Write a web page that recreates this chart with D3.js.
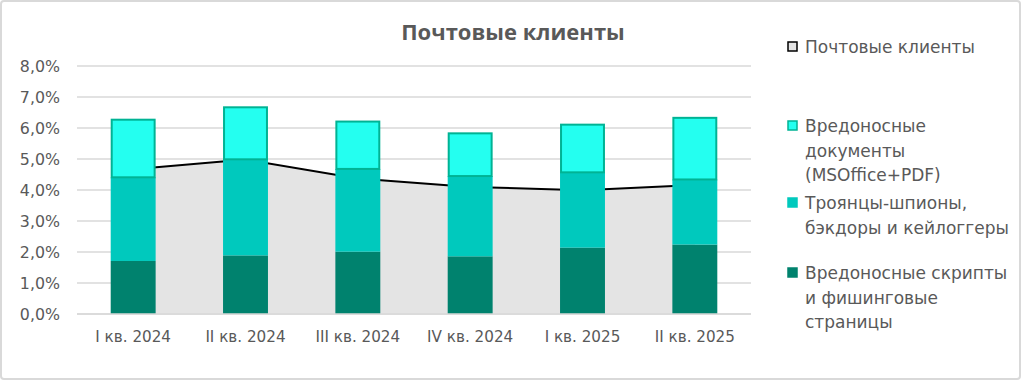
<!DOCTYPE html>
<html><head><meta charset="utf-8">
<script src="https://cdn.jsdelivr.net/npm/d3@7"></script>
<style>body{margin:0;background:#fff}svg{display:block}text{font-family:"DejaVu Sans",sans-serif;fill:#595959}</style>
</head><body><svg id="c" width="1024" height="381"></svg>
<script>
const categories = ["I кв. 2024","II кв. 2024","III кв. 2024","IV кв. 2024","I кв. 2025","II кв. 2025"];
const scripts = [1.71, 1.89, 2.01, 1.86, 2.14, 2.24];
const trojans = [2.70, 3.10, 2.67, 2.59, 2.43, 2.10];
const documents = [1.89, 1.71, 1.56, 1.41, 1.57, 2.02];
const mailClients = [4.67, 4.98, 4.37, 4.10, 3.99, 4.16];
const yTicks = [0,1,2,3,4,5,6,7,8];
const legendLines = [
  {name:"Почтовые клиенты", lines:["Почтовые клиенты"]},
  {name:"docs", lines:["Вредоносные","документы","(MSOffice+PDF)"]},
  {name:"troj", lines:["Троянцы-шпионы,","бэкдоры и кейлоггеры"]},
  {name:"scr", lines:["Вредоносные скрипты","и фишинговые","страницы"]}
];

const svg = d3.select("#c");
svg.append("rect").attr("x",1).attr("y",1).attr("width",1019).attr("height",378).attr("rx",3)
  .attr("fill","#fff").attr("stroke","#d9d9d9").attr("stroke-width",2);

const m = {l:77, r:751, t:66, b:314};
const x = d3.scaleBand().domain(categories).range([m.l, m.r]).paddingInner(0.6).paddingOuter(0.3);
const y = d3.scaleLinear().domain([0,8]).range([m.b, m.t]);

svg.append("g").selectAll("line").data(yTicks).join("line")
  .attr("x1",m.l).attr("x2",m.r).attr("y1",d=>y(d)).attr("y2",d=>y(d))
  .attr("stroke","#d9d9d9").attr("stroke-width",1.5);

const yAxis = d3.axisLeft(y).tickValues(yTicks).tickSize(0).tickPadding(0)
  .tickFormat(d=>d3.format(".1f")(d).replace(".",",")+"%");
const ya = svg.append("g").attr("transform",`translate(60,0)`).call(yAxis);
ya.select(".domain").remove();
ya.selectAll("text").attr("font-size",15.8).attr("fill","#595959").style("font-family","DejaVu Sans");

const cx = d => x(d) + x.bandwidth()/2;
const area = d3.area().x((d,i)=>cx(categories[i])).y0(y(0)).y1(d=>y(d));
const line = d3.line().x((d,i)=>cx(categories[i])).y(d=>y(d));
svg.append("path").datum(mailClients).attr("d",area).attr("fill","#e4e4e4");
svg.append("path").datum(mailClients).attr("d",line).attr("fill","none").attr("stroke","#000").attr("stroke-width",2);

const data = categories.map((c,i)=>({cat:c, s:scripts[i], t:trojans[i], d:documents[i]}));
const stack = d3.stack().keys(["s","t","d"])(data);
const fills = {s:"#00826e", t:"#00c9bd", d:"#24fff0"};
const strokes = {s:"none", t:"none", d:"#00b394"};
stack.forEach(layer=>{
  const k = layer.key==="d";
  svg.append("g").selectAll("rect").data(layer).join("rect")
    .attr("x",d=>x(d.data.cat)+(k?1:0))
    .attr("width",x.bandwidth()-(k?2:0))
    .attr("y",d=>y(d[1])+(k?1:0))
    .attr("height",d=>y(d[0])-y(d[1])-(k?1:0))
    .attr("fill",fills[layer.key]).attr("stroke",strokes[layer.key]).attr("stroke-width",2);
});

svg.append("line").attr("x1",m.l).attr("x2",m.r).attr("y1",y(0)).attr("y2",y(0)).attr("stroke","#d9d9d9").attr("stroke-width",1.5);

const xAxis = d3.axisBottom(x).tickSize(0).tickPadding(0);
const xa = svg.append("g").attr("transform",`translate(0,${y(0)+20})`).call(xAxis);
xa.select(".domain").remove();
xa.selectAll("text").attr("font-size",15.2).attr("fill","#595959").attr("dy","0.5em").style("font-family","DejaVu Sans");

svg.append("text").attr("x",513).attr("y",40).attr("text-anchor","middle")
  .style("font-family","'Open Sans'").attr("font-size",22).attr("font-weight","bold")
  .attr("fill","#595959").text("Почтовые клиенты");

const legendY = [47, 126, 203, 273];
const legendFill = ["#e4e4e4","#24fff0","#00c9bd","#00826e"];
const legendStroke = ["#000","#00b394","#00c9bd","#00826e"];
const lg = svg.append("g");
legendLines.forEach((e,i)=>{
  lg.append("rect").attr("x",788).attr("y",legendY[i]-5).attr("width",9).attr("height",9)
    .attr("fill",legendFill[i]).attr("stroke",legendStroke[i]).attr("stroke-width",1.5);
  e.lines.forEach((t,j)=>{
    lg.append("text").attr("x",805).attr("y",legendY[i]+6+j*24.5).attr("font-size",17).attr("fill","#595959").text(t);
  });
});
</script></body></html>
